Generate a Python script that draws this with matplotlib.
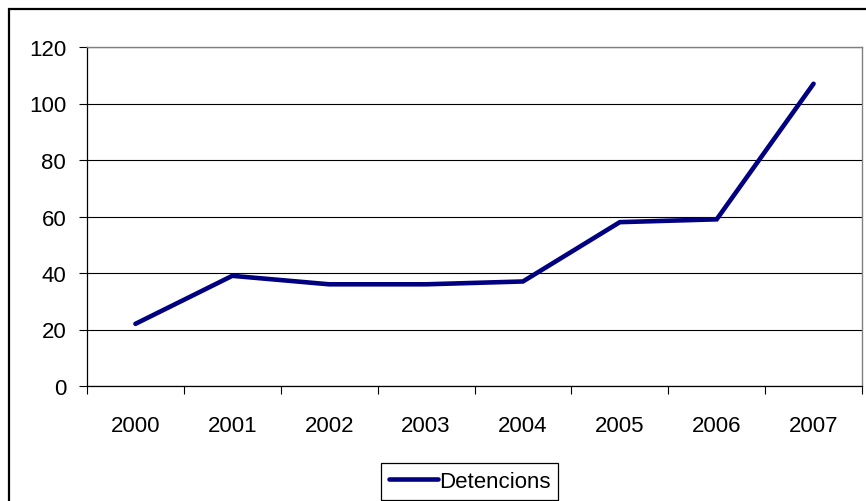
import matplotlib.pyplot as plt
from matplotlib.patches import Rectangle
import numpy as np

plt.rcParams['font.family'] = ['Liberation Sans', 'DejaVu Sans']

years = ['2000', '2001', '2002', '2003', '2004', '2005', '2006', '2007']
detencions = [22, 39, 36, 36, 37, 58, 59, 107]
y_ticks = [0, 20, 40, 60, 80, 100, 120]

W, H = 866, 502
fig = plt.figure(figsize=(W / 100, H / 100), dpi=100)
ax = fig.add_axes([87 / W, 1 - 387 / H, (862 - 87) / W, (387 - 48) / H])

x = np.arange(len(years))
ax.plot(x, detencions, color='#000080', linewidth=3.3, solid_capstyle='round',
        solid_joinstyle='miter', label='Detencions', zorder=3)

ax.set_xlim(-0.5, len(years) - 0.5)
ax.set_ylim(0, 120)
ax.set_yticks(y_ticks)
ax.yaxis.grid(True, color='black', linewidth=0.8)
ax.set_axisbelow(True)

# category labels at centres, tick marks at boundaries
ax.set_xticks(np.arange(len(years) + 1) - 0.5)
ax.set_xticklabels([])
ax.set_xticks(x, minor=True)
ax.set_xticklabels(years, minor=True)
ax.tick_params(axis='x', which='major', length=6, width=0.8, direction='out')
ax.tick_params(axis='x', which='minor', length=0, pad=21, labelsize=16)
ax.tick_params(axis='y', length=6, width=0.8, direction='out', pad=9, labelsize=16)

for s in ['left', 'bottom']:
    ax.spines[s].set_color('black')
    ax.spines[s].set_linewidth(0.9)
for s in ['top', 'right']:
    ax.spines[s].set_color('#808080')
    ax.spines[s].set_linewidth(1.0)

# outer chart border (cut at the figure edges)
fig.patches.append(Rectangle((9 / W, -0.1), 1.0, 1 - 10 / H + 0.1, transform=fig.transFigure,
                             fill=False, edgecolor='black', linewidth=1.6))

leg = fig.legend(loc='upper left', bbox_to_anchor=(381 / W, 1 - 464 / H),
                 bbox_transform=fig.transFigure, fontsize=16, fancybox=False,
                 edgecolor='black', framealpha=1, borderpad=0.35,
                 handlelength=2.2, handletextpad=0.05, borderaxespad=0)
leg.get_frame().set_linewidth(0.9)

fig.savefig('out.png', dpi=100)
